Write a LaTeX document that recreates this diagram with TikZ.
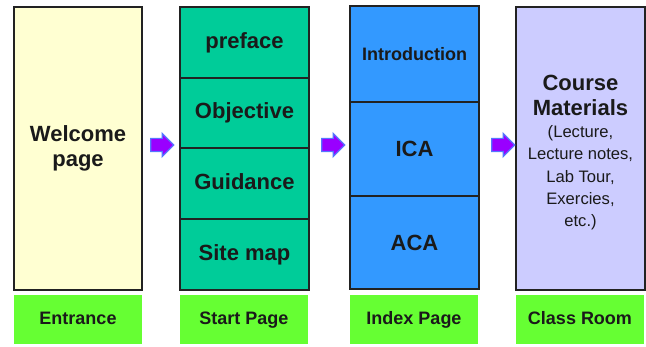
\documentclass[tikz,border=0pt]{standalone}
\usepackage{fontspec}
\setmainfont{Liberation Sans}
\usetikzlibrary{shapes.arrows}
\definecolor{yel}{HTML}{FFFFD2}
\definecolor{teal2}{HTML}{00CC99}
\definecolor{blu}{HTML}{3399FF}
\definecolor{lav}{HTML}{CCCCFF}
\definecolor{grn}{HTML}{66FF33}
\definecolor{arrfill}{HTML}{9900FF}
\definecolor{arredge}{HTML}{5577FF}
\definecolor{ink}{HTML}{1A1A1A}
\definecolor{edge}{HTML}{222222}
\tikzset{
  cell/.style={draw=edge, line width=1.4pt, inner sep=0pt, outer sep=0pt, text=ink, align=center},
  big/.style={font=\fontsize{22}{25}\selectfont\bfseries},
  mid/.style={font=\fontsize{18}{20}\selectfont\bfseries},
  one/.style={text height=16pt, text depth=4pt},
  lbl/.style={fill=grn, inner sep=0pt, outer sep=0pt, minimum width=128pt, minimum height=49pt, text=ink, text height=13pt, text depth=3pt, font=\fontsize{18}{20}\selectfont\bfseries},
  flow/.style={single arrow, fill=arrfill, draw=arredge, line width=1.2pt, inner sep=6pt, minimum height=23pt, single arrow head extend=5pt}
}
\begin{document}
\begin{tikzpicture}[x=1pt,y=-1pt]
\useasboundingbox (0,0) rectangle (646,347);
% Entrance
\node[cell, big, fill=yel, minimum width=128pt, minimum height=283pt] (welcome) at (78,148.5) {Welcome\\page};
\node[lbl] (entrance) at (78,319.5) {Entrance};
% Start page
\node[cell, big, one, fill=teal2, minimum width=129pt, minimum height=71pt] (preface) at (244.5,42.5) {preface};
\node[cell, big, one, fill=teal2, minimum width=129pt, minimum height=70pt] (objective) at (244.5,113) {Objective};
\node[cell, big, one, fill=teal2, minimum width=129pt, minimum height=71pt] (guidance) at (244.5,183.5) {Guidance};
\node[cell, big, one, fill=teal2, minimum width=129pt, minimum height=71pt] (sitemap) at (244.5,254.5) {Site map};
\node[lbl] (start) at (244,319.5) {Start Page};
% Index page
\node[cell, mid, fill=blu, minimum width=129pt, minimum height=96pt] (intro) at (414.5,54) {\bfseries Introduction};
\node[cell, big, fill=blu, minimum width=129pt, minimum height=94pt] (ica) at (414.5,149) {ICA};
\node[cell, big, fill=blu, minimum width=129pt, minimum height=93pt] (aca) at (414.5,242.5) {ACA};
\node[lbl] (index) at (414,319.5) {Index Page};
% Class room
\node[cell, fill=lav, minimum width=129pt, minimum height=283pt] (course) at (580.5,148.5) {};
\node[text=ink, align=center, font=\fontsize{22}{25}\selectfont\bfseries] (ctitle) at (580.5,95) {Course\\Materials};
\node[text=ink, align=center, font=\fontsize{16.6}{22.3}\selectfont, anchor=north] (clist) at (580.5,122) {(Lecture,\\Lecture notes,\\Lab Tour,\\Exercies,\\etc.)};
\node[lbl] (classroom) at (580,319.5) {Class Room};
% arrows
\node[flow] (a1) at (159,145) {};
\node[flow] (a2) at (330,145) {};
\node[flow] (a3) at (500,145) {};
\end{tikzpicture}
\end{document}
